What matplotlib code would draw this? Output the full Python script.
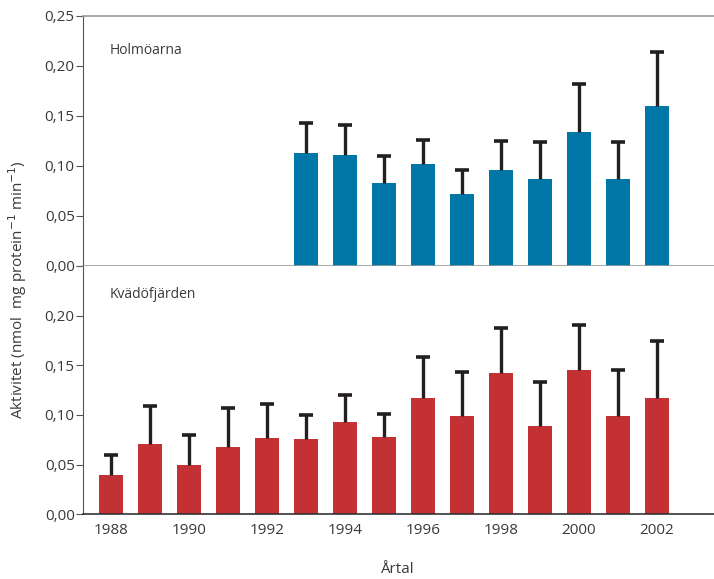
import matplotlib.pyplot as plt
import numpy as np

plt.rcParams['font.family'] = ['Open Sans', 'DejaVu Sans']

# Holmöarna (1993-2002)
years_h = [1993, 1994, 1995, 1996, 1997, 1998, 1999, 2000, 2001, 2002]
mean_h = [0.113, 0.111, 0.083, 0.102, 0.072, 0.096, 0.087, 0.134, 0.087, 0.160]
upper_h = [0.143, 0.141, 0.110, 0.126, 0.096, 0.125, 0.124, 0.182, 0.124, 0.214]

# Kvädöfjärden (1988-2002)
years_k = list(range(1988, 2003))
mean_k = [0.040, 0.071, 0.050, 0.068, 0.077, 0.076, 0.093, 0.078, 0.117, 0.099,
          0.142, 0.089, 0.145, 0.099, 0.117]
upper_k = [0.060, 0.109, 0.080, 0.107, 0.111, 0.100, 0.120, 0.101, 0.158, 0.143,
           0.188, 0.133, 0.191, 0.145, 0.174]

xticks = [1988, 1990, 1992, 1994, 1996, 1998, 2000, 2002]
yticks = [0.0, 0.05, 0.10, 0.15, 0.20, 0.25]

blue = '#0077a7'
red = '#c43134'
errc = '#231f20'
txt = '#3a3a3a'

fig = plt.figure(figsize=(7.14, 5.79), dpi=100)
ax1 = fig.add_axes([0.1162, 0.5406, 0.8838, 0.4318])
ax2 = fig.add_axes([0.1162, 0.1117, 0.8838, 0.4289])


def draw(ax, yrs, m, up, color):
    ax.bar(yrs, m, width=0.615, color=color, zorder=2)
    # upper error bar only
    ax.vlines(yrs, m, up, color=errc, lw=2.4, zorder=3)
    ax.plot(yrs, up, ls='none', marker='_', ms=9.5, mew=2.6, color=errc, zorder=3)
    ax.set_xlim(1987.28, 2003.46)
    ax.set_ylim(0, 0.25)
    ax.spines['right'].set_visible(False)
    ax.spines['left'].set_color('#555555')
    ax.tick_params(axis='y', direction='out', length=5, color='#555555',
                   labelsize=11, labelcolor=txt, pad=1)


draw(ax1, years_h, mean_h, upper_h, blue)
draw(ax2, years_k, mean_k, upper_k, red)

ax1.set_yticks(yticks)
ax1.set_yticklabels([f'{v:.2f}'.replace('.', ',') for v in yticks])
ax1.set_xticks([])
ax1.spines['top'].set_color('#999999')
ax1.spines['bottom'].set_color('#999999')
ax1.spines['top'].set_linewidth(1.2)
ax1.spines['bottom'].set_linewidth(1.2)

ax2.set_yticks(yticks[:-1])
ax2.set_yticklabels([f'{v:.2f}'.replace('.', ',') for v in yticks[:-1]])
ax2.spines['top'].set_visible(False)
ax2.spines['bottom'].set_color('#333333')
ax2.spines['bottom'].set_linewidth(1.2)
ax2.set_xticks(xticks)
ax2.set_xticklabels([str(y) for y in xticks])
ax2.tick_params(axis='x', length=0, labelsize=11, labelcolor=txt, pad=6)

ax1.text(0.043, 0.86, 'Holmöarna', transform=ax1.transAxes, fontsize=10,
         color=txt, va='center')
ax2.text(0.043, 0.885, 'Kvädöfjärden', transform=ax2.transAxes, fontsize=10,
         color=txt, va='center')

fig.text(0.025, 0.5, 'Aktivitet (nmol  mg protein$^{-1}$ min$^{-1}$)',
         rotation=90, ha='center', va='center', fontsize=11, color=txt)
fig.text(0.556, 0.003, 'Årtal', ha='center', va='bottom', fontsize=11,
         color=txt)

fig.savefig('out.png', dpi=100)
